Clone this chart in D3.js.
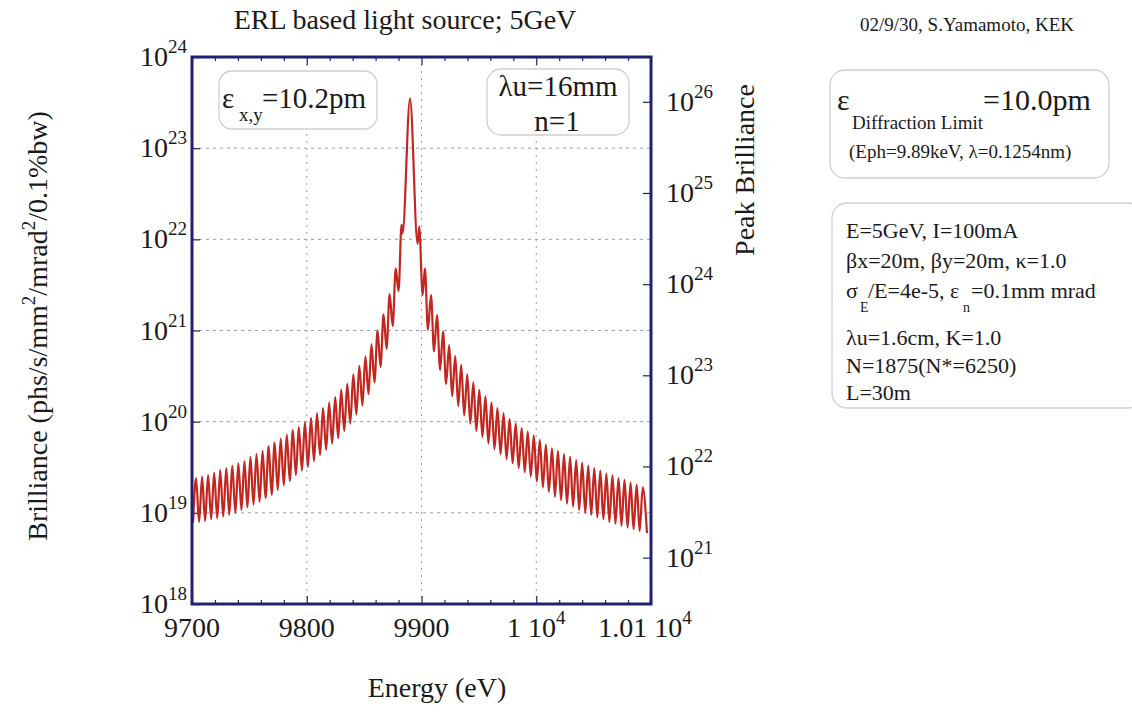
<!DOCTYPE html>
<html>
<head>
<meta charset="utf-8">
<script src="https://cdnjs.cloudflare.com/ajax/libs/d3/7.8.5/d3.min.js"></script>
<style>
  body { margin: 0; background: #fff; }
  svg text { font-family: "Liberation Serif", "Times New Roman", serif; fill: #1a1a1a; }
</style>
</head>
<body>
<div id="svg-container"></div>
<script>
//photon energy (eV) of every turning point of the spectrum
var energy = [
  9700.9, 9703.5, 9706.2, 9708.8, 9711.4, 9714.0, 9716.7, 9719.3, 9722.0, 9724.6,
  9727.2, 9729.9, 9732.5, 9735.1, 9737.8, 9740.4, 9743.1, 9745.7, 9748.3, 9750.9,
  9753.6, 9756.2, 9758.9, 9761.5, 9764.1, 9766.8, 9769.4, 9772.0, 9774.7, 9777.3,
  9780.0, 9782.6, 9785.2, 9787.9, 9790.5, 9793.1, 9795.8, 9798.4, 9801.0, 9803.7,
  9806.3, 9808.9, 9811.6, 9814.2, 9816.9, 9819.5, 9822.1, 9824.8, 9827.4, 9830.0,
  9832.7, 9835.3, 9837.9, 9840.6, 9843.2, 9845.8, 9848.5, 9851.1, 9853.8, 9856.4,
  9859.0, 9861.7, 9864.3, 9866.9, 9869.6, 9872.2, 9874.9, 9877.5, 9880.0, 9882.6,
  9883.5, 9890.0, 9896.6, 9898.0, 9901.0, 9903.0, 9905.6, 9908.3, 9910.9, 9913.5,
  9916.2, 9918.8, 9921.4, 9924.1, 9926.7, 9929.4, 9932.0, 9934.6, 9937.2, 9939.9,
  9942.5, 9945.2, 9947.8, 9950.4, 9953.1, 9955.7, 9958.3, 9961.0, 9963.6, 9966.2,
  9968.9, 9971.5, 9974.1, 9976.8, 9979.4, 9982.1, 9984.7, 9987.3, 9990.0, 9992.6,
  9995.2, 9997.9, 10000.5, 10003.1, 10005.8, 10008.4, 10011.0, 10013.7, 10016.3, 10018.9,
  10021.6, 10024.2, 10026.8, 10029.5, 10032.1, 10034.8, 10037.4, 10040.0, 10042.7, 10045.3,
  10047.9, 10050.6, 10053.2, 10055.8, 10058.5, 10061.1, 10063.7, 10066.4, 10069.0, 10071.7,
  10074.3, 10076.9, 10079.6, 10082.2, 10084.8, 10087.5, 10090.1, 10092.8, 10096.5
];

//brilliance (phs/s/mm2/mrad2/0.1%bw) at those points
var brilliance = [
  7.8e18, 2.4e19, 7.9e18, 2.5e19, 8.1e18, 2.6e19, 8.5e18, 2.75e19, 8.7e18, 2.95e19,
  9.1e18, 3.1e19, 9.5e18, 3.3e19, 1.0e19, 3.5e19, 1.07e19, 3.7e19, 1.15e19, 4.1e19,
  1.23e19, 4.4e19, 1.32e19, 4.8e19, 1.45e19, 5.4e19, 1.58e19, 5.9e19, 1.78e19, 6.5e19,
  2.0e19, 7.2e19, 2.24e19, 8.1e19, 2.6e19, 8.7e19, 2.9e19, 9.8e19, 3.2e19, 1.10e20,
  3.7e19, 1.23e20, 4.3e19, 1.41e20, 4.9e19, 1.62e20, 5.75e19, 1.86e20, 6.6e19, 2.24e20,
  7.9e19, 2.6e20, 9.5e19, 3.3e20, 1.2e20, 4.1e20, 1.5e20, 5.2e20, 2.0e20, 7.1e20,
  2.7e20, 1.0e21, 4.0e20, 1.5e21, 6.3e20, 2.5e21, 1.12e21, 4.8e21, 2.7e21, 1.45e22,
  1.17e22, 3.5e23, 8.9e21, 1.38e22, 2.45e21, 4.8e21, 1.02e21, 2.45e21, 5.9e20, 1.48e21,
  3.7e20, 9.8e20, 2.6e20, 6.9e20, 1.9e20, 5.25e20, 1.48e20, 4.2e20, 1.17e20, 3.3e20,
  9.5e19, 2.7e20, 7.9e19, 2.24e20, 6.8e19, 1.9e20, 5.75e19, 1.62e20, 5.0e19, 1.41e20,
  4.4e19, 1.23e20, 3.9e19, 1.07e20, 3.5e19, 9.5e19, 3.1e19, 8.5e19, 2.8e19, 7.8e19,
  2.5e19, 7.1e19, 2.2e19, 6.3e19, 1.9e19, 5.6e19, 1.7e19, 5.1e19, 1.5e19, 4.8e19,
  1.38e19, 4.4e19, 1.26e19, 4.1e19, 1.17e19, 3.8e19, 1.07e19, 3.55e19, 1.0e19, 3.3e19,
  9.5e18, 3.1e19, 8.9e18, 2.9e19, 8.5e18, 2.7e19, 7.9e18, 2.6e19, 7.6e18, 2.4e19,
  7.2e18, 2.3e19, 6.9e18, 2.14e19, 6.6e18, 2.04e19, 6.3e18, 1.9e19, 6.0e18
];

//x axis ticks and labels
var xTickValues = [9700, 9800, 9900, 10000, 10100];
var xTickText = ['9700', '9800', '9900', '1 10', '1.01 10'];
var xTickSup = ['', '', '', '4', '4'];
var xMinorTicks = [9720, 9740, 9760, 9780, 9820, 9840, 9860, 9880, 9920, 9940, 9960, 9980, 10020, 10040, 10060, 10080];
var xGridValues = [9800, 9900, 10000];

//left (brilliance) axis
var yTickValues = [1e18, 1e19, 1e20, 1e21, 1e22, 1e23, 1e24];
var yTickExp = ['18', '19', '20', '21', '22', '23', '24'];
var yGridValues = [1e19, 1e20, 1e21, 1e22, 1e23];

//right (peak brilliance) axis
var peakTickValues = [1e21, 1e22, 1e23, 1e24, 1e25, 1e26];
var peakTickExp = ['21', '22', '23', '24', '25', '26'];
var peakRatio = 310;

//parameter boxes
var paramLines = ['E=5GeV, I=100mA', '\u03b2x=20m, \u03b2y=20m, \u03ba=1.0', '', '\u03bbu=1.6cm, K=1.0', 'N=1875(N*=6250)', 'L=30m'];

var width = 1132, height = 715;
var plot = {left: 192, right: 651, top: 57, bottom: 604};
var frameColor = '#1f2272';
var lineColor = '#c2261f';
var gridColor = '#9c9cab';

var svg = d3.select('#svg-container').append('svg')
  .attr('width', width)
  .attr('height', height);

//scales
var x = d3.scaleLinear().domain([9700, 10100]).range([plot.left, plot.right]);
var y = d3.scaleLog().domain([1e18, 1e24]).range([plot.bottom, plot.top]);
var yPeak = d3.scaleLog().domain([1e18 * peakRatio, 1e24 * peakRatio]).range([plot.bottom, plot.top]);

//dotted grid
svg.append('g').selectAll('line').data(yGridValues).enter().append('line')
  .attr('x1', plot.left).attr('x2', plot.right)
  .attr('y1', function(d) { return y(d); }).attr('y2', function(d) { return y(d); })
  .style('stroke', gridColor).style('stroke-width', 1).style('stroke-dasharray', '3,4');
svg.append('g').selectAll('line').data(xGridValues).enter().append('line')
  .attr('y1', plot.top).attr('y2', plot.bottom)
  .attr('x1', function(d) { return x(d); }).attr('x2', function(d) { return x(d); })
  .style('stroke', gridColor).style('stroke-width', 1).style('stroke-dasharray', '2,5');

//ticks drawn inwards
function styleAxis(g) {
  g.select('.domain').remove();
  g.selectAll('.tick line').style('stroke', frameColor).style('stroke-width', 1.2);
}
svg.append('g').attr('transform', 'translate(0,' + plot.bottom + ')')
  .call(d3.axisBottom(x).tickValues(xMinorTicks).tickSize(-4).tickFormat('')).call(styleAxis);
svg.append('g').attr('transform', 'translate(0,' + plot.bottom + ')')
  .call(d3.axisBottom(x).tickValues(xTickValues).tickSize(-8).tickFormat('')).call(styleAxis);
svg.append('g').attr('transform', 'translate(0,' + plot.top + ')')
  .call(d3.axisTop(x).tickValues(xMinorTicks).tickSize(-4).tickFormat('')).call(styleAxis);
svg.append('g').attr('transform', 'translate(0,' + plot.top + ')')
  .call(d3.axisTop(x).tickValues(xTickValues).tickSize(-8).tickFormat('')).call(styleAxis);
svg.append('g').attr('transform', 'translate(' + plot.left + ',0)')
  .call(d3.axisLeft(y).tickValues(yTickValues).tickSize(-8).tickFormat('')).call(styleAxis);
svg.append('g').attr('transform', 'translate(' + plot.right + ',0)')
  .call(d3.axisRight(yPeak).tickValues(peakTickValues).tickSize(-8).tickFormat('')).call(styleAxis);

//labels with a superscript part
function supLabel(sel, base, sup, size) {
  sel.append('tspan').text(base);
  if (sup) {
    sel.append('tspan').attr('dy', -13).style('font-size', (size * 0.68) + 'px').text(sup);
  }
}

xTickValues.forEach(function(v, i) {
  var t = svg.append('text')
    .attr('x', x(v) - (i == 4 ? 6 : 0)).attr('y', 637)
    .attr('text-anchor', 'middle')
    .style('font-size', '28px');
  supLabel(t, xTickText[i], xTickSup[i], 28);
});

yTickValues.forEach(function(v, i) {
  var t = svg.append('text')
    .attr('x', 187).attr('y', y(v) + 9)
    .attr('text-anchor', 'end')
    .style('font-size', '28px');
  supLabel(t, '10', yTickExp[i], 28);
});

peakTickValues.forEach(function(v, i) {
  var t = svg.append('text')
    .attr('x', 666).attr('y', yPeak(v) + 9)
    .attr('text-anchor', 'start')
    .style('font-size', '28px');
  supLabel(t, '10', peakTickExp[i], 28);
});

//spectrum
var points = energy.map(function(e, i) { return [e, brilliance[i]]; });
svg.append('clipPath').attr('id', 'plot-clip').append('rect')
  .attr('x', plot.left).attr('y', plot.top)
  .attr('width', plot.right - plot.left).attr('height', plot.bottom - plot.top);
var line = d3.line()
  .x(function(d) { return x(d[0]); })
  .y(function(d) { return y(d[1]); })
  .curve(d3.curveMonotoneX);
svg.append('path')
  .datum(points)
  .attr('d', line)
  .attr('clip-path', 'url(#plot-clip)')
  .style('fill', 'none')
  .style('stroke', lineColor)
  .style('stroke-width', 2.2)
  .style('stroke-linejoin', 'round');

//boxes inside the plot
function roundBox(x0, y0, w, h, r) {
  svg.append('rect')
    .attr('x', x0).attr('y', y0).attr('width', w).attr('height', h)
    .attr('rx', r).attr('ry', r)
    .style('fill', '#fff').style('stroke', '#cfcfcf').style('stroke-width', 1.3);
}
roundBox(219, 71, 158, 58, 13);
var eps = svg.append('text').attr('y', 108).style('font-size', '29px');
eps.append('tspan').attr('x', 222).text('\u03b5');
eps.append('tspan').attr('x', 239).attr('dy', 13).style('font-size', '19px').text('x,y');
eps.append('tspan').attr('x', 262).attr('dy', -13).text('=10.2pm');

roundBox(487, 69, 142, 66, 14);
svg.append('text').attr('x', 558).attr('y', 96).attr('text-anchor', 'middle')
  .style('font-size', '29px').text('\u03bbu=16mm');
svg.append('text').attr('x', 557).attr('y', 131).attr('text-anchor', 'middle')
  .style('font-size', '29px').text('n=1');

//frame
svg.append('rect')
  .attr('x', plot.left).attr('y', plot.top)
  .attr('width', plot.right - plot.left).attr('height', plot.bottom - plot.top)
  .style('fill', 'none').style('stroke', frameColor).style('stroke-width', 3);

//titles
svg.append('text').attr('x', 405).attr('y', 29).attr('text-anchor', 'middle')
  .style('font-size', '28px').text('ERL based light source; 5GeV');
svg.append('text').attr('x', 437).attr('y', 697).attr('text-anchor', 'middle')
  .style('font-size', '28px').text('Energy (eV)');

var yTitle = svg.append('text')
  .attr('transform', 'translate(47,326) rotate(-90)')
  .attr('text-anchor', 'middle')
  .style('font-size', '28px');
yTitle.append('tspan').text('Brilliance (phs/s/mm');
yTitle.append('tspan').attr('dy', -12).style('font-size', '19px').text('2');
yTitle.append('tspan').attr('dy', 12).text('/mrad');
yTitle.append('tspan').attr('dy', -12).style('font-size', '19px').text('2');
yTitle.append('tspan').attr('dy', 12).text('/0.1%bw)');

svg.append('text')
  .attr('transform', 'translate(754,170) rotate(-90)')
  .attr('text-anchor', 'middle')
  .style('font-size', '28px').text('Peak Brilliance');

//right hand notes
svg.append('text').attr('x', 967).attr('y', 31).attr('text-anchor', 'middle')
  .style('font-size', '19px').text('02/9/30, S.Yamamoto, KEK');

roundBox(830, 70, 279, 108, 15);
var dl = svg.append('text').attr('y', 110).style('font-size', '30px');
dl.append('tspan').attr('x', 837).text('\u03b5');
dl.append('tspan').attr('x', 852).attr('dy', 19).style('font-size', '19px').text('Diffraction Limit');
dl.append('tspan').attr('x', 983).attr('dy', -19).text('=10.0pm');
svg.append('text').attr('x', 849).attr('y', 158)
  .style('font-size', '19px').text('(Eph=9.89keV, \u03bb=0.1254nm)');

roundBox(832, 203, 310, 205, 15);
var lineY = [238, 268, 298, 345, 373, 400];
paramLines.forEach(function(s, i) {
  if (s) {
    svg.append('text').attr('x', 846).attr('y', lineY[i])
      .style('font-size', '22px').text(s);
  }
});
var sig = svg.append('text').attr('y', lineY[2]).style('font-size', '22px');
sig.append('tspan').attr('x', 846).text('\u03c3');
sig.append('tspan').attr('x', 860).attr('dy', 14).style('font-size', '14px').text('E');
sig.append('tspan').attr('x', 868).attr('dy', -14).text('/E=4e-5, \u03b5');
sig.append('tspan').attr('x', 963).attr('dy', 14).style('font-size', '14px').text('n');
sig.append('tspan').attr('x', 971).attr('dy', -14).text('=0.1mm mrad');
</script>
</body>
</html>
